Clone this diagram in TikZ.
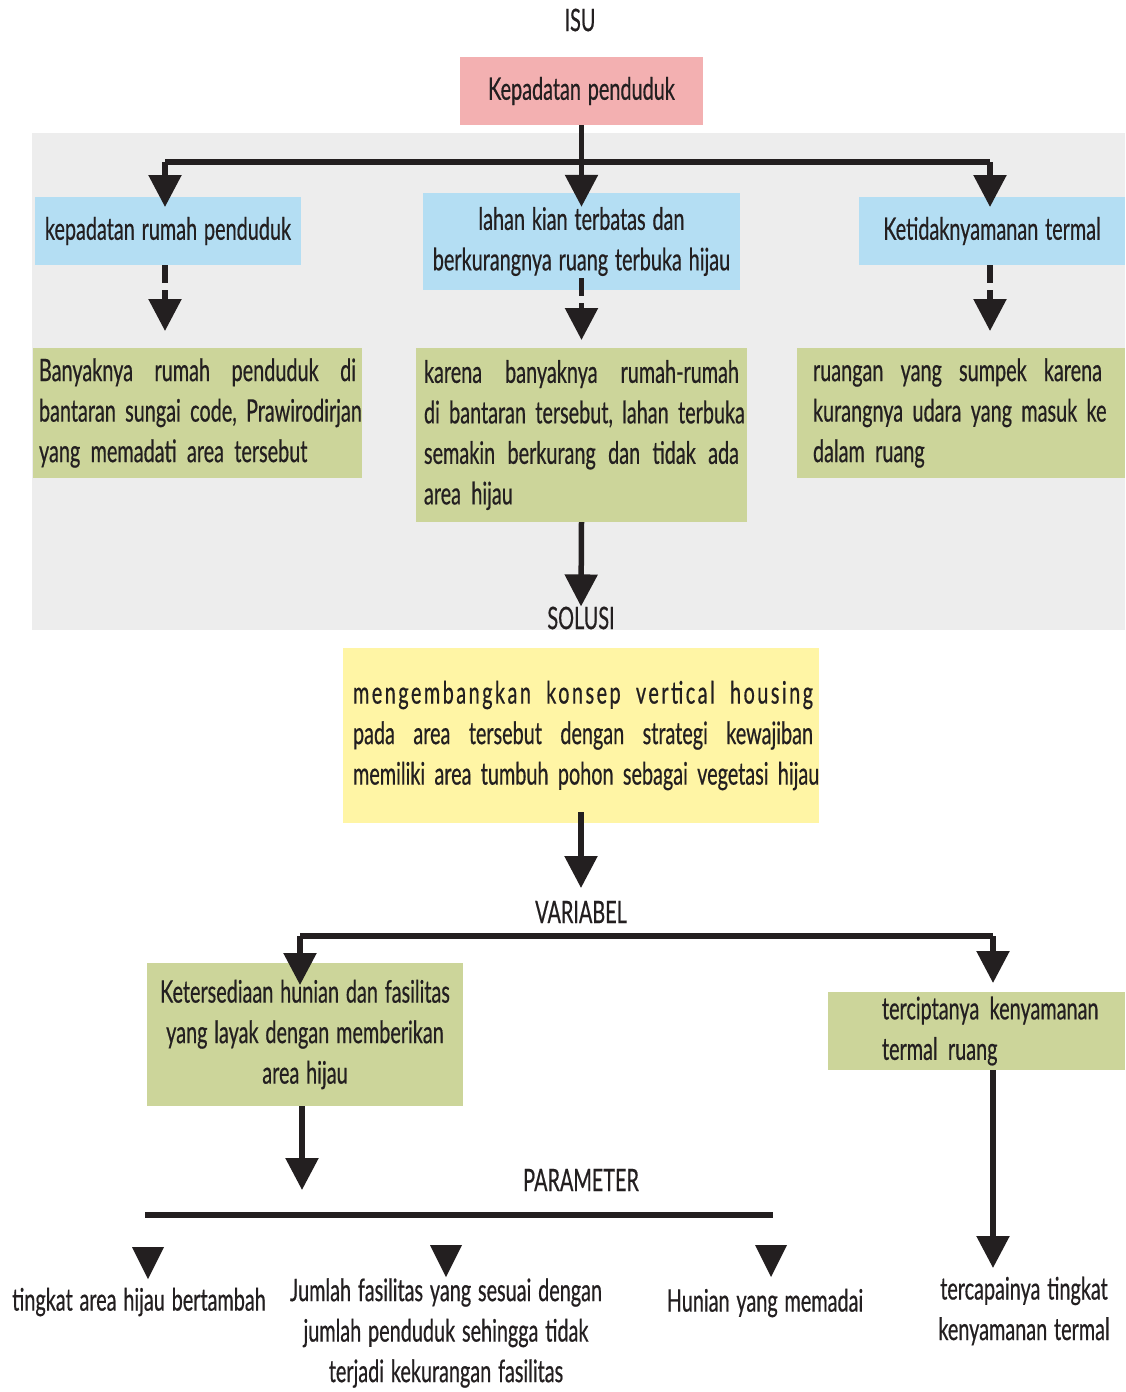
\documentclass[tikz,border=0pt]{standalone}
\usepackage{fontspec}
\setmainfont{Lato}[FakeStretch=0.64, FakeBold=0.5]
\usetikzlibrary{arrows.meta}
\definecolor{ink}{HTML}{231F20}
\definecolor{pinkbox}{HTML}{F3B0B1}
\definecolor{bluebox}{HTML}{B4DEF3}
\definecolor{greenbox}{HTML}{CCD59A}
\definecolor{yellowbox}{HTML}{FFF5A5}
\definecolor{bggray}{HTML}{EDEDED}
\newcommand\jl[2]{\leavevmode\hbox to #1{\spaceskip 0.3em plus 1fil\relax #2}}
\newcommand\nodefont{\fontsize{31}{40.5}\selectfont\spaceskip 0.22em plus 0.05em\relax}
\tikzset{
  txt/.style={font=\nodefont, text=ink, inner sep=0pt},
  fbox/.style 2 args={txt, fill=#1, minimum width=#2},
  conn/.style={draw=ink, line width=5.5pt},
  arr/.style={conn, -{Triangle[width=32pt,length=32pt]}},
  darr/.style={arr, dash pattern=on 18pt off 7pt},
}
\begin{document}
\begin{tikzpicture}[x=1pt,y=-1pt]
\useasboundingbox (0,0) rectangle (1125,1392);
\fill[white] (0,0) rectangle (1125,1392);
\fill[bggray] (32,133) rectangle (1125,630);

% labels
\node[txt] (isu) at (580,20) {ISU};
\node[txt] (solusi) at (581,618) {SOLUSI};
\node[txt] (variabel) at (581,912) {VARIABEL};
\node[txt] (parameter) at (581,1180) {PARAMETER};

% ISU
\node[fbox={pinkbox}{243pt}, minimum height=68pt] (kp) at (581.5,91) {Kepadatan penduduk};

\node[fbox={bluebox}{266pt}, minimum height=68pt] (lb) at (168,231) {kepadatan rumah penduduk};
\node[fbox={bluebox}{317pt}, minimum height=97pt, align=center] (cb) at (581.5,241.5) {lahan kian terbatas dan\\berkurangnya ruang terbuka hijau};
\node[fbox={bluebox}{266pt}, minimum height=68pt] (rb) at (992,231) {Ketidaknyamanan termal};

\node[fbox={greenbox}{329pt}, minimum height=130pt, text width=317pt, align=left] (lg) at (197.5,413)
  {\jl{317pt}{Banyaknya rumah penduduk di}\\\jl{317pt}{bantaran sungai code, Prawirodirjan}\\yang memadati area tersebut};
\node[fbox={greenbox}{331pt}, minimum height=174pt, text width=315pt, align=left] (cg) at (581.5,435)
  {\jl{315pt}{karena banyaknya rumah-rumah}\\\jl{315pt}{di bantaran tersebut, lahan terbuka}\\\jl{315pt}{semakin berkurang dan tidak ada}\\area hijau};
\node[fbox={greenbox}{328pt}, minimum height=130pt, text width=328pt, align=left] (rg) at (961,413)
  {\hspace*{16pt}\jl{289pt}{ruangan yang sumpek karena}\\\hspace*{16pt}\jl{289pt}{kurangnya udara yang masuk ke}\\\hspace*{16pt}dalam ruang};

% SOLUSI
\node[fbox={yellowbox}{476pt}, minimum height=175pt, text width=476pt, align=left] (yl) at (581,735.5)
  {\hspace*{10pt}\jl{460pt}{\addfontfeature{LetterSpace=8}mengembangkan konsep vertical housing}\\\hspace*{10pt}\jl{460pt}{pada area tersebut dengan strategi kewajiban}\\\hspace*{10pt}\jl{460pt}{memiliki area tumbuh pohon sebagai vegetasi hijau}};

% VARIABEL
\node[fbox={greenbox}{316pt}, minimum height=143pt, align=center] (lv) at (305,1034.5)
  {Ketersediaan hunian dan fasilitas\\yang layak dengan memberikan\\area hijau};
\node[fbox={greenbox}{297pt}, minimum height=78pt, text width=297pt, align=left] (rv) at (976.5,1031)
  {\hspace*{54pt}terciptanya kenyamanan\\\hspace*{54pt}termal ruang};

% PARAMETER texts
\node[txt] (p1) at (139,1302) {tingkat area hijau bertambah};
\node[txt, align=center] (p2) at (446,1333) {Jumlah fasilitas yang sesuai dengan\\jumlah penduduk sehingga tidak\\terjadi kekurangan fasilitas};
\node[txt] (p3) at (765,1303) {Hunian yang memadai};
\node[txt, align=center] (p4) at (1024,1311) {tercapainya tingkat\\kenyamanan termal};

% connectors ISU
\coordinate (j1) at (581.5,162);
\coordinate (jl) at (165,162);
\coordinate (jr) at (990,162);
\draw[conn] (kp.south) -- (j1);
\draw[conn] (jl) -- (jr);
\draw[arr] (jl) -- (165,207);
\draw[arr] (j1) -- ([yshift=-14pt]cb.north);
\draw[arr] (jr) -- (990,207);

\draw[darr] (165,265) -- (165,331);
\draw[darr] (581.5,278) -- (581.5,340);
\draw[darr] (990,265) -- (990,331);

\draw[arr] (cg.south) -- (solusi.north);
\draw[arr] ([yshift=11pt]yl.south) -- (581,888);

% VARIABEL
\coordinate (vl) at (300,936);
\coordinate (vr) at (993,936);
\draw[conn] (vl) -- (vr);
\draw[arr] (vl) -- (300,985);
\draw[arr] (vr) -- (993,983);
\draw[arr] (302,1106) -- (302,1190);
\draw[arr] (rv.south -| 993,0) -- (993,1268);

% PARAMETER
\coordinate (pa) at (145,1215);
\coordinate (pb) at (773,1215);
\draw[conn] (pa) -- (pb);
\fill[ink] (132,1247) -- (164,1247) -- (148,1279) -- cycle;
\fill[ink] (430,1245) -- (462,1245) -- (446,1277) -- cycle;
\fill[ink] (755,1245) -- (787,1245) -- (771,1277) -- cycle;
\end{tikzpicture}
\end{document}
